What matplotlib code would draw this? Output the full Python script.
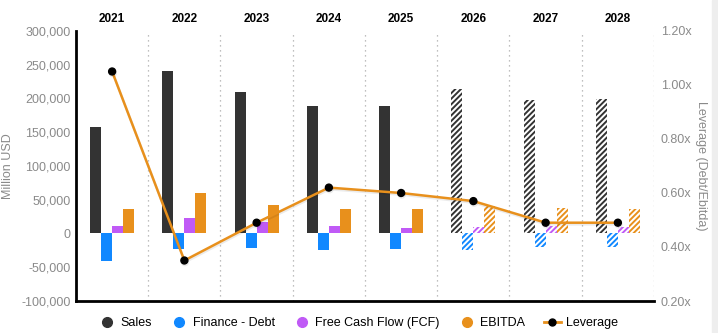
import matplotlib.pyplot as plt
import numpy as np
from matplotlib.lines import Line2D
import matplotlib.patheffects as pe

plt.rcParams['font.family'] = ['Liberation Sans', 'DejaVu Sans']
plt.rcParams['hatch.linewidth'] = 1.4

# data
years = ["2021", "2022", "2023", "2024", "2025", "2026", "2027", "2028"]
sales = [158000, 241000, 210000, 189000, 189000, 214000, 198000, 199000]
finance_debt = [-40000, -23000, -21000, -24000, -23000, -24000, -19500, -19500]
fcf = [11000, 23000, 17000, 11000, 8000, 9500, 11500, 9500]
ebitda = [36000, 60000, 42000, 36000, 36000, 41000, 38000, 36000]
leverage = [1.05, 0.35, 0.49, 0.62, 0.60, 0.57, 0.49, 0.49]
forecast_from = 5  # 2026 onward drawn hatched

c_sales = "#333333"
c_debt = "#1188FF"
c_fcf = "#C05AF6"
c_ebitda = "#E8901C"
c_lev = "#E8901C"
grey = "#8A8A8A"

fig = plt.figure(figsize=(7.18, 3.33), dpi=100)
ax = fig.add_axes([76 / 718, 1 - 301 / 333, 578 / 718, 270 / 333])
ax2 = ax.twinx()

x = np.arange(len(years))
w = 0.152
series = [(sales, c_sales), (finance_debt, c_debt), (fcf, c_fcf), (ebitda, c_ebitda)]
for k, (vals, col) in enumerate(series):
    off = (k - 1.5) * w
    for i, v in enumerate(vals):
        if i < forecast_from:
            ax.bar(x[i] + off, v, w, color=col, linewidth=0, zorder=2)
        else:
            ax.bar(x[i] + off, v, w, facecolor="white", edgecolor=col,
                   hatch="//////", linewidth=0, zorder=2)

ax.set_xlim(-0.5, len(years) - 0.5)
ax.set_ylim(-100000, 300000)
ax.set_yticks(np.arange(-100000, 300001, 50000))
ax.set_yticklabels([f"{int(v):,}" for v in ax.get_yticks()], color=grey, fontsize=9)
ax.tick_params(axis="y", length=0, pad=4)

# category separators
for b in np.arange(0.5, len(years), 1.0):
    ax.axvline(b, color="#AAAAAA", linestyle=(0, (1, 3)), linewidth=0.9, zorder=1)

ax.xaxis.tick_top()
ax.set_xticks(x)
ax.set_xticklabels(years, fontsize=8.5, fontweight="bold")
ax.tick_params(axis="x", length=0, pad=4)

for s in ["top", "right"]:
    ax.spines[s].set_visible(False)
    ax2.spines[s].set_visible(False)
ax2.spines["left"].set_visible(False)
ax2.spines["bottom"].set_visible(False)
ax.spines["left"].set_linewidth(2)
ax.spines["bottom"].set_linewidth(2)
ax.set_ylabel("Million USD", color=grey, fontsize=9, labelpad=5)

ax2.plot(x, leverage, color=c_lev, linewidth=1.8, marker="o", markersize=5,
         markerfacecolor="black", markeredgecolor="black", zorder=4,
         path_effects=[pe.SimpleLineShadow(offset=(0.5, -1.2), alpha=0.08), pe.Normal()])
ax2.set_ylim(0.2, 1.2)
ax2.set_yticks(np.arange(0.2, 1.21, 0.2))
ax2.set_yticklabels([f"{v:.2f}x" for v in np.arange(0.2, 1.21, 0.2)], color=grey, fontsize=9)
ax2.tick_params(axis="y", length=0, pad=5)
ax2.set_ylabel("Leverage (Debt/Ebitda)", color=grey, fontsize=9, rotation=270, labelpad=11)

handles = [
    Line2D([], [], linestyle="none", marker="o", markersize=7, color=c_sales),
    Line2D([], [], linestyle="none", marker="o", markersize=7, color=c_debt),
    Line2D([], [], linestyle="none", marker="o", markersize=7, color=c_fcf),
    Line2D([], [], linestyle="none", marker="o", markersize=7, color=c_ebitda),
    Line2D([], [], color=c_lev, linewidth=2, marker="o", markersize=5,
           markerfacecolor="black", markeredgecolor="black"),
]
labels = ["Sales", "Finance - Debt", "Free Cash Flow (FCF)", "EBITDA", "Leverage"]
fig.legend(handles, labels, loc="center", bbox_to_anchor=(358 / 718, 1 - 323 / 333),
           ncol=5, frameon=False, fontsize=9, handlelength=1.4, columnspacing=1.45,
           handletextpad=0.4, borderpad=0)

# light strip at the right edge of the screenshot
fig.patches.append(plt.Rectangle((712 / 718, 0), 6 / 718, 1, transform=fig.transFigure,
                                 color="#EEEEEE", zorder=0))

fig.savefig("out.png", dpi=100)
